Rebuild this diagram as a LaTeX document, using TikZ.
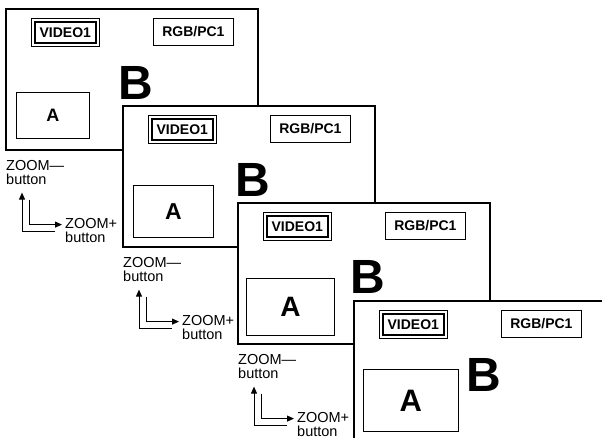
\documentclass[tikz,border=0pt]{standalone}
\usepackage{fontspec}
\setmainfont{Liberation Sans}
\usetikzlibrary{arrows.meta,calc}

\begin{document}
\begin{tikzpicture}[x=1pt, y=-1pt,
    screen/.style={draw, line width=1.6pt, fill=white, minimum width=252pt, minimum height=141pt, anchor=north west},
    tag/.style={draw, line width=0.8pt, inner sep=0pt, anchor=north west, font=\fontsize{14}{16}\selectfont\bfseries},
    lbl/.style={align=left, inner sep=0pt, anchor=north west, font=\fontsize{14.5}{14}\selectfont},
    btn/.style={line width=0.9pt, -{Triangle[length=7pt,width=6pt]}}]
    \useasboundingbox (0,0) rectangle (602,438);
    \clip (0,0) rectangle (602,438);
    % screens, each one zoomed a bit more than the last
    \foreach \i/\sx/\sy/\ax/\ay/\aw/\ah/\af in {1/5/8/11/84/73/46/18, 2/122/105/11/80/80/52/23,
                                               3/237/202/9/76/88/57/28, 4/353/300/10/69/95/62/31} {
        \node[screen] (scr\i) at (\sx,\sy) {};
        \node[tag, line width=1.6pt, minimum width=61pt, minimum height=21pt] (vid\i) at (\sx+29,\sy+13) {VIDEO1};
        \draw[line width=0.8pt] ($(vid\i.north west)+(-3,-3)$) rectangle ($(vid\i.south east)+(3,3)$);
        \node[tag, minimum width=80pt, minimum height=27pt] (rgb\i) at (\sx+148,\sy+10) {RGB/PC1};
        \node[inner sep=0pt, font=\fontsize{48}{48}\selectfont\bfseries] (b\i) at (\sx+131,\sy+75) {B};
        \node[draw, line width=0.8pt, minimum width=\aw pt, minimum height=\ah pt, anchor=north west,
              font=\fontsize{\af}{\af}\selectfont\bfseries] (a\i) at (\sx+\ax,\sy+\ay) {A};
    }
    % buttons under the first three screens
    \foreach \i in {1,2,3} {
        \node[lbl] (zm\i) at ($(scr\i.south west)+(1,10)$) {ZOOM—\\button};
        \node[lbl] (zp\i) at ($(scr\i.south west)+(60,68)$) {ZOOM+\\button};
        \coordinate (up\i) at ($(scr\i.south west)+(17,42)$);
        \coordinate (dn\i) at ($(scr\i.south west)+(50,81)$);
        \coordinate (in\i) at ($(scr\i.south west)+(24,49)$);
        \coordinate (pl\i) at ($(scr\i.south west)+(57,74)$);
        \draw[btn] (dn\i) -| (up\i);
        \draw[btn] (in\i) |- (pl\i);
    }
\end{tikzpicture}
\end{document}
